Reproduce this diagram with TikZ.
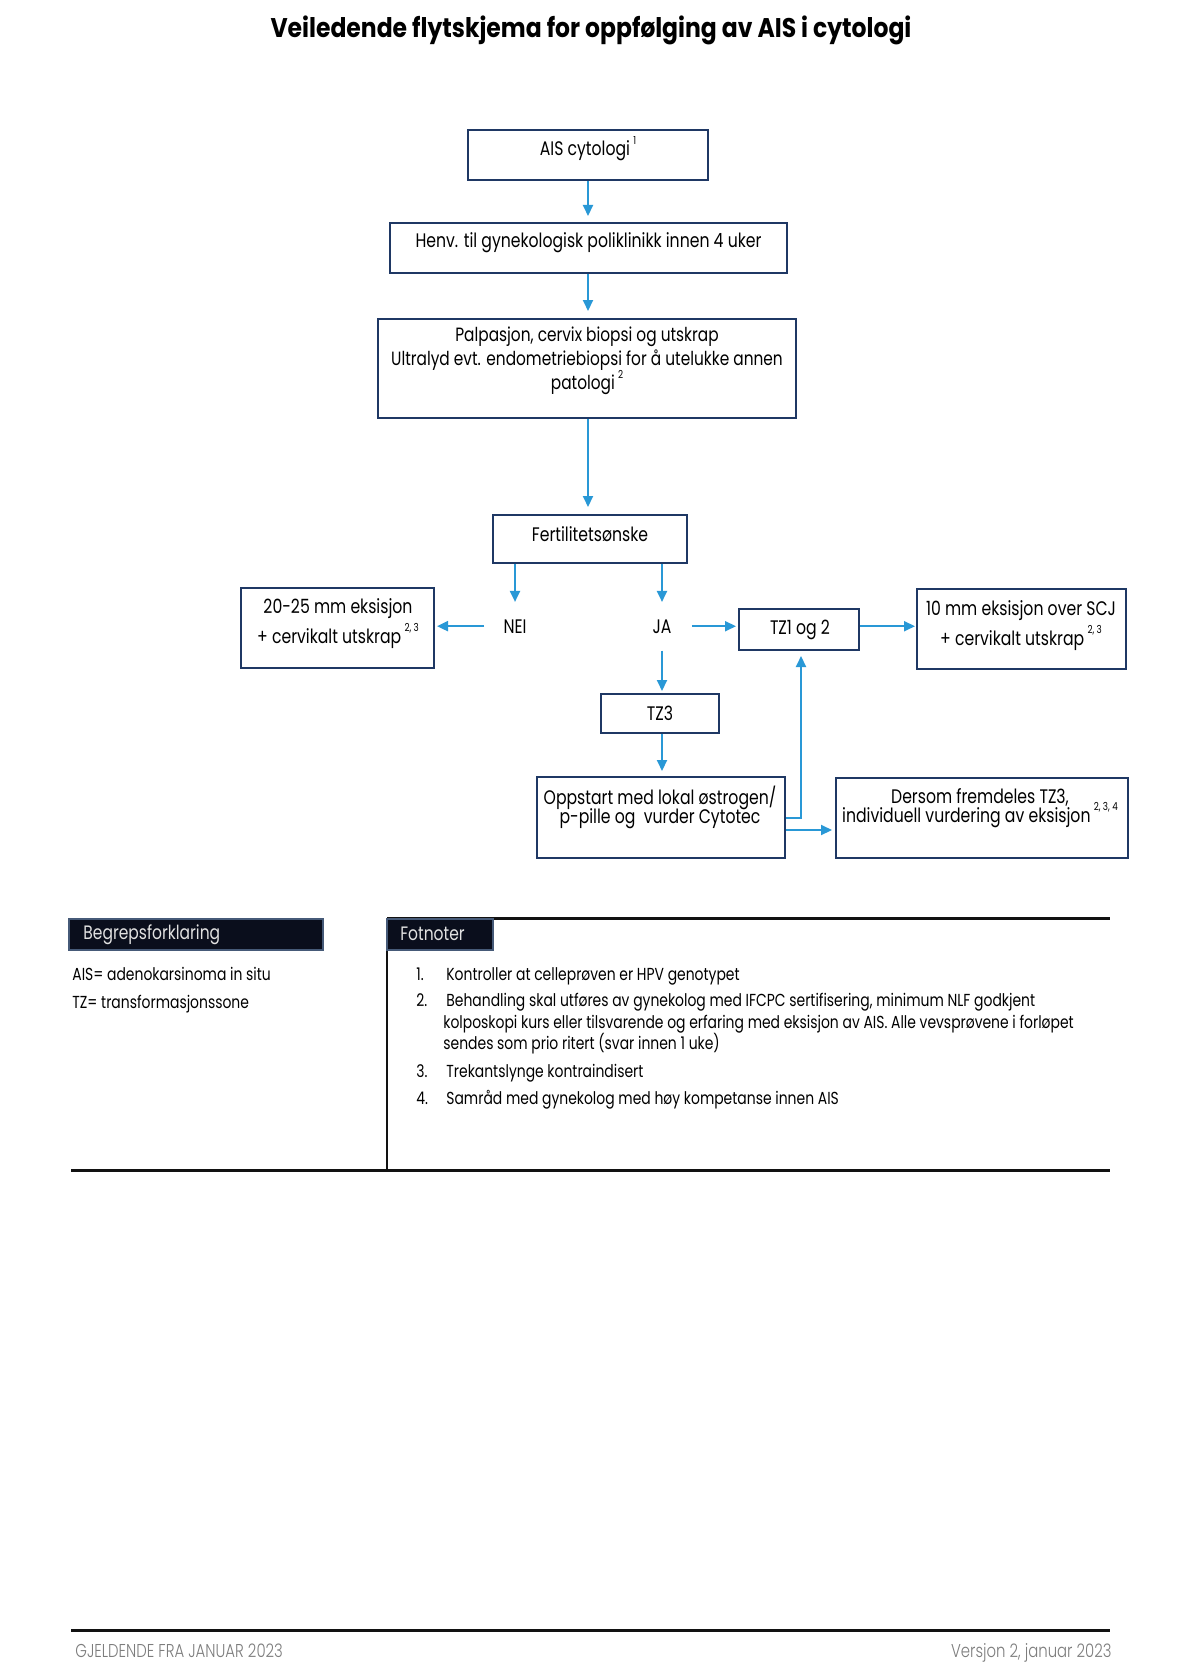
\documentclass[tikz,border=0pt]{standalone}
\usepackage{fontspec}
\setmainfont{Poppins}[FakeStretch=0.8]
\newfontfamily\titlefont{Poppins}[FakeStretch=0.87]
\IfFontExistsTF{Poppins Light}
  {\newfontfamily\footfont{Poppins Light}[FakeStretch=0.8]}
  {\newfontfamily\footfont{Poppins}[FakeStretch=0.8]}
\usetikzlibrary{arrows.meta}
\definecolor{navy}{RGB}{31,56,100}
\definecolor{arrowblue}{RGB}{41,152,214}
\definecolor{hdrfill}{RGB}{10,14,28}
\definecolor{hdrline}{RGB}{70,90,120}
\definecolor{hdrtext}{RGB}{225,225,225}
\definecolor{footgrey}{RGB}{125,125,125}
\newdimen\pxu \pxu=0.5pt
\newcommand\sups[1]{\,\smash{\raisebox{0.6em}{\fontsize{5.5}{6}\selectfont #1}}}
\tikzset{
  box/.style={draw=navy, line width=1pt, inner sep=0pt},
  txt/.style={inner sep=0pt, anchor=base, font=\fontsize{9.8}{11}\selectfont},
  lbl/.style={inner sep=0pt, anchor=base, font=\fontsize{9.8}{11}\selectfont},
  arr/.style={draw=arrowblue, line width=1pt, -{Triangle[length=5.5pt,width=5pt]}},
  rule/.style={draw=black!93, line width=1.5pt},
  hdr/.style={fill=hdrfill, draw=hdrline, line width=0.6pt, inner sep=0pt},
  hdrtxt/.style={inner sep=0pt, anchor=base west, text=hdrtext, font=\fontsize{9.7}{11}\selectfont},
  fn/.style={inner sep=0pt, anchor=base west, font=\fontsize{8.7}{10}\selectfont},
  foot/.style={inner sep=0pt, text=footgrey, font=\footfont\fontsize{9.3}{10}\selectfont}
}
\begin{document}
\begin{tikzpicture}[x=0.5pt,y=-0.5pt]
\useasboundingbox[fill=white] (0,0) rectangle (1180,1669);

% title
\node[anchor=base, inner sep=0pt] (title) at (591,38)
  {\titlefont\bfseries\fontsize{13.5}{15}\selectfont Veiledende flytskjema for oppfølging av AIS i cytologi};

% boxes
\node[box, minimum width=240\pxu, minimum height=50\pxu] (ais) at (588,155) {};
\node[txt] (aist) at (588,156) {AIS cytologi\sups{1}};

\node[box, minimum width=397\pxu, minimum height=50\pxu] (henv) at (588.5,248) {};
\node[txt] (henvt) at (588.5,248) {Henv. til gynekologisk poliklinikk innen 4 uker};

\node[box, minimum width=418\pxu, minimum height=99\pxu] (palp) at (587,368.5) {};
\node[inner sep=0pt, anchor=center, align=center,
      font={\fontsize{9.6}{12}\selectfont\lineskiplimit=-6pt}] (palpt) at (587,361)
  {Palpasjon, cervix biopsi og utskrap\\Ultralyd evt. endometriebiopsi for å utelukke annen\\patologi\sups{2}};

\node[box, minimum width=194\pxu, minimum height=48\pxu] (fert) at (590,539) {};
\node[txt] (fertt) at (590,541) {Fertilitetsønske};

\node[lbl] (nei) at (515,633) {NEI};
\node[lbl] (ja) at (662,633) {JA};

\node[box, minimum width=193\pxu, minimum height=80\pxu] (eks20) at (337.5,628) {};
\node[txt] (eks20a) at (338,613) {20-25 mm eksisjon};
\node[txt] (eks20b) at (338,643) {+ cervikalt utskrap\sups{2, 3}};

\node[box, minimum width=120\pxu, minimum height=41\pxu] (tz12) at (799,629.5) {};
\node[txt] (tz12t) at (800,634) {TZ1 og 2};

\node[box, minimum width=209\pxu, minimum height=80\pxu] (eks10) at (1021.5,629) {};
\node[txt] (eks10a) at (1021,615) {10 mm eksisjon over SCJ};
\node[txt] (eks10b) at (1021,645) {+ cervikalt utskrap\sups{2, 3}};

\node[box, minimum width=118\pxu, minimum height=39\pxu] (tz3) at (660,713.5) {};
\node[txt] (tz3t) at (660,720) {TZ3};

\node[box, minimum width=248\pxu, minimum height=81\pxu] (opp) at (661,817.5) {};
\node[txt] (oppa) at (660,804) {Oppstart med lokal østrogen/};
\node[txt] (oppb) at (660,823) {p-pille og~ vurder Cytotec};

\node[box, minimum width=292\pxu, minimum height=80\pxu] (ders) at (982,818) {};
\node[txt] (dersa) at (980,803) {Dersom fremdeles TZ3,};
\node[txt] (dersb) at (980,822) {individuell vurdering av eksisjon\sups{2, 3, 4}};

% connectors
\draw[arr, shorten >=3pt] (ais.south) -- (ais.south |- henv.north);
\draw[arr, shorten >=3.5pt] (henv.south -| ais.south) -- (ais.south |- palp.north);
\draw[arr, shorten >=3.5pt] (palp.south -| ais.south) -- (ais.south |- fert.north);
\draw[arr, shorten >=8.5pt] (fert.south -| nei.north) -- (nei.north);
\draw[arr, shorten >=8.5pt] (fert.south -| ja.north) -- (ja.north);
\draw[arr, shorten <=9.5pt, shorten >=1pt] (nei.west) -- (nei.west -| eks20.east);
\draw[arr, shorten <=10pt, shorten >=1pt] (ja.east) -- (ja.east -| tz12.west);
\draw[arr, shorten >=0.5pt] (tz12.east |- ja.east) -- (ja.east -| eks10.west);
\draw[arr, shorten <=8.5pt, shorten >=1pt] (ja.south) -- (ja.south |- tz3.north);
\draw[arr, shorten >=2.5pt] (tz3.south -| ja.south) -- (ja.south |- opp.north);
\coordinate (fb) at (801,818);
\draw[arr, shorten >=2.5pt] (opp.east |- fb) -- (fb) -- (fb |- tz12.south);
\draw[arr, shorten >=1.5pt] ([yshift=-6.25pt]opp.east) -- ([yshift=-6.25pt]opp.east -| ders.west);

% lower section
\draw[rule] (387,918) -- (1110,918);
\draw[draw=black!93, line width=1.2pt] (387,918) -- (387,1170);
\draw[rule] (71,1170) -- (1110,1170);

\node[hdr, minimum width=254\pxu, minimum height=31\pxu] (begh) at (196,934.5) {};
\node[hdrtxt] (begt) at (83,939) {Begrepsforklaring};
\node[hdr, minimum width=106\pxu, minimum height=31\pxu] (foth) at (440,934.5) {};
\node[hdrtxt] (fott) at (400,940) {Fotnoter};

\node[fn] (lega) at (72,980) {AIS= adenokarsinoma in situ};
\node[fn] (legb) at (72,1008) {TZ= transformasjonssone};

\node[fn] (n1) at (416,980) {1.};
\node[fn] (f1) at (446,980) {Kontroller at celleprøven er HPV genotypet};
\node[fn] (n2) at (416,1006) {2.};
\node[fn] (f2a) at (446,1006) {Behandling skal utføres av gynekolog med IFCPC sertifisering, minimum NLF godkjent};
\node[fn] (f2b) at (443,1028) {kolposkopi kurs eller tilsvarende og erfaring med eksisjon av AIS. Alle vevsprøvene i forløpet};
\node[fn] (f2c) at (443,1049) {sendes som prio ritert (svar innen 1 uke)};
\node[fn] (n3) at (416,1077) {3.};
\node[fn] (f3) at (446,1077) {Trekantslynge kontraindisert};
\node[fn] (n4) at (416,1104) {4.};
\node[fn] (f4) at (446,1104) {Samråd med gynekolog med høy kompetanse innen AIS};

% footer
\draw[rule] (71,1630) -- (1110,1630);
\node[foot, anchor=base west] (footl) at (75,1657) {GJELDENDE FRA JANUAR 2023};
\node[foot, anchor=base east] (footr) at (1112,1657) {Versjon 2, januar 2023};
\end{tikzpicture}
\end{document}
